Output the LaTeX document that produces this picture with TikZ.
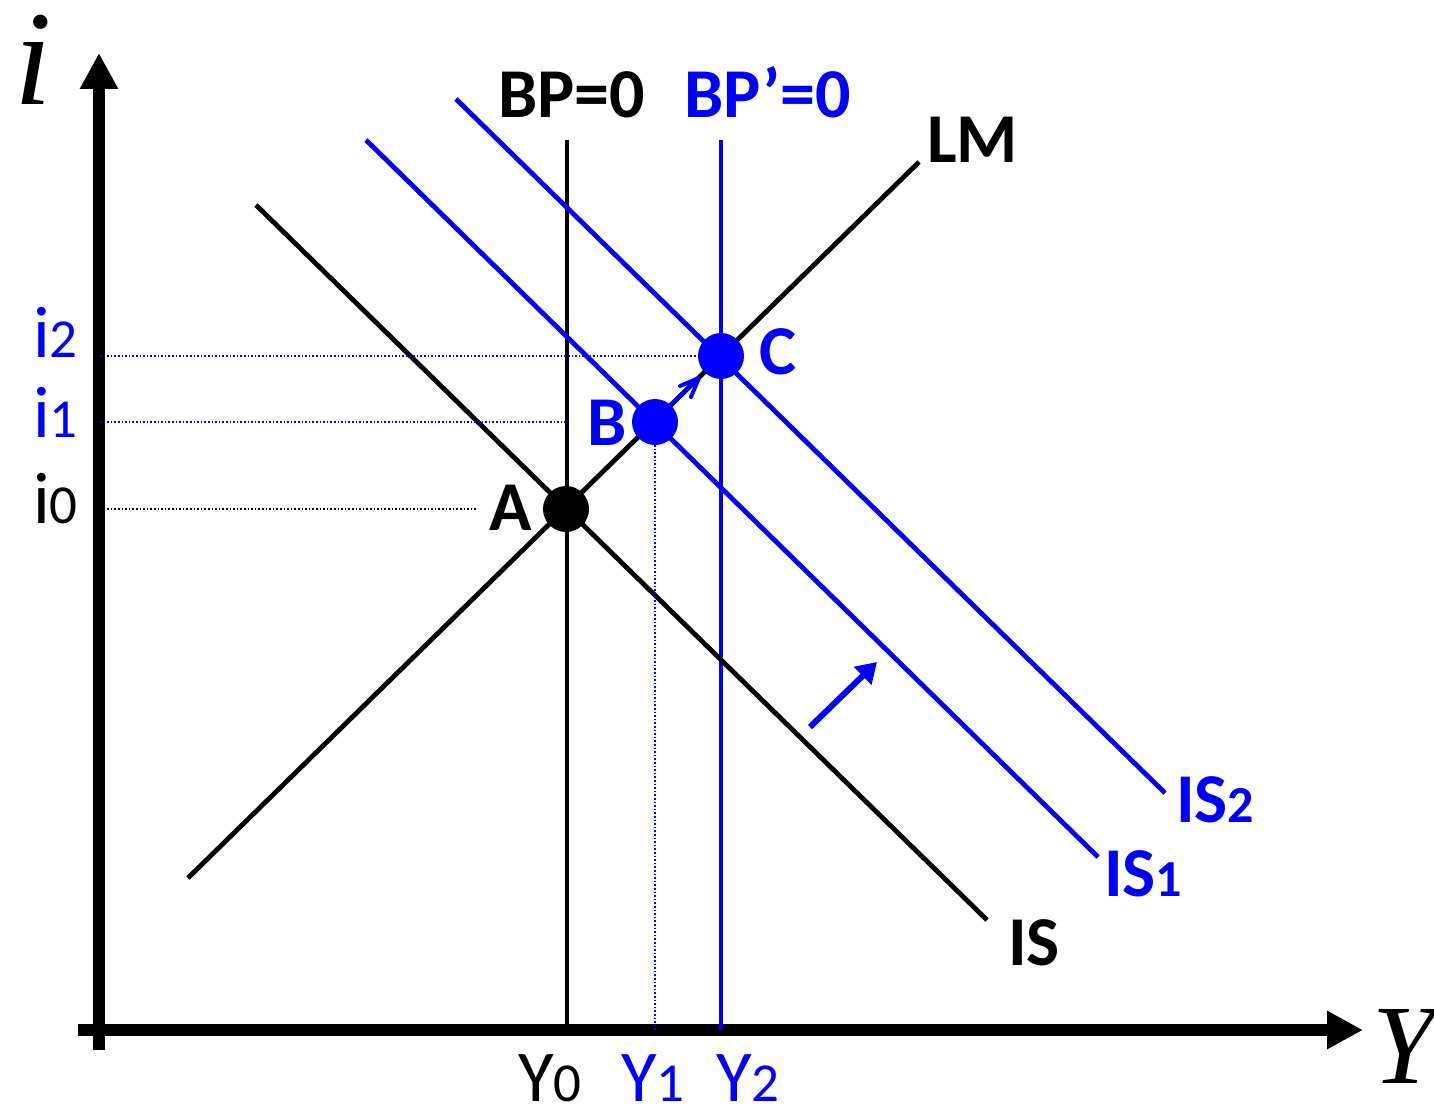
\documentclass[tikz,border=0pt]{standalone}
\usepackage{fontspec}
\setmainfont{Carlito}
\newfontfamily\tms{Liberation Serif}
\usetikzlibrary{arrows.meta}
\newcommand\fsz[1]{\fontsize{#1}{#1}\selectfont}
\definecolor{pblue}{RGB}{0,0,255}
\begin{document}
\begin{tikzpicture}[x=1pt,y=-1pt,
  curve/.style={line width=4.8pt},
  axisline/.style={line width=12pt,-{Triangle[length=36pt,width=36pt]}},
  guide/.style={line width=1.6pt,dash pattern=on 1.6pt off 2pt},
  pt/.style={circle,inner sep=0pt,minimum size=46pt},
  lbl/.style={inner sep=0pt,anchor=base west,font=\fsz{70}\bfseries},
  tick/.style={inner sep=0pt,anchor=base west,font=\fsz{73}},
]
\useasboundingbox (0,0) rectangle (1434,1110);
% axes
\coordinate (yb) at (99,1050);
\coordinate (yt) at (99,53);
\coordinate (xl) at (78,1030);
\coordinate (xr) at (1363,1030);
\draw[axisline] (yb) -- (yt);
\draw[axisline] (xl) -- (xr);
\node[inner sep=0pt,anchor=base west,font=\tms\itshape\fsz{135}] (ilab) at (14,105) {i};
\node[inner sep=0pt,anchor=base west,font=\tms\itshape\fsz{113}] (Ylab) at (1372,1083) {Y};
% curve endpoints
\coordinate (bp0t) at (567,140); \coordinate (bp0b) at (567,1030);
\coordinate (bp1t) at (721,140); \coordinate (bp1b) at (721,1030);
\coordinate (lma) at (188,878);  \coordinate (lmb) at (919,162);
\coordinate (isa) at (256,205);  \coordinate (isb) at (987,920);
\coordinate (is1a) at (366,140); \coordinate (is1b) at (1098,857);
\coordinate (is2a) at (456,99);  \coordinate (is2b) at (1165,793);
\draw[curve] (bp0t) -- (bp0b);
\draw[curve,pblue] (bp1t) -- (bp1b);
\draw[curve] (lma) -- (lmb);
\draw[curve] (isa) -- (isb);
\draw[curve,pblue] (is1a) -- (is1b);
\draw[curve,pblue] (is2a) -- (is2b);
% points
\node[pt,fill=black] (A) at (566,509) {};
\node[pt,fill=pblue] (B) at (655,422) {};
\node[pt,fill=pblue] (C) at (721,356) {};
% guides
\coordinate (g2l) at (100,356);
\coordinate (g1l) at (100,422); \coordinate (g1r) at (567,422);
\coordinate (g0l) at (100,509); \coordinate (g0r) at (478,509);
\coordinate (y1b) at (655,1030);
\draw[guide,pblue] (g2l) -- (C.west);
\draw[guide,pblue] (g1l) -- (g1r);
\draw[guide] (g0l) -- (g0r);
\draw[guide,pblue] (B.south) -- (y1b);
% arrows
\coordinate (sa) at (668,408); \coordinate (sb) at (699,378);
\coordinate (sarm1) at (680,386); \coordinate (sarm2) at (691,397);
\draw[pblue,line width=4pt] (sa) -- (sb);
\draw[pblue,line width=4pt,line cap=round,line join=round] (sarm1) -- (sb) -- (sarm2);
\coordinate (ba) at (810,727); \coordinate (bb) at (877,662);
\draw[pblue,line width=6pt,-{Triangle[length=20pt,width=24pt]}] (ba) -- (bb);
% labels
\node[lbl] (bp0lab) at (498,118) {BP=0};
\node[lbl,pblue] (bp1lab) at (684,118) {BP’=0};
\node[lbl] (lmlab) at (927,163) {LM};
\node[lbl] (Alab) at (489,530) {A};
\node[lbl,pblue] (Blab) at (587,445) {B};
\node[lbl,pblue] (Clab) at (759,374) {C};
\node[lbl] (islab) at (1008,965) {IS};
\node[lbl,pblue] (is1lab) at (1104,896) {IS{\fsz{52}1}};
\node[lbl,pblue] (is2lab) at (1176,822) {IS{\fsz{52}2}};
\node[tick,pblue] (i2lab) at (33,357) {i{\fsz{55}2}};
\node[tick,pblue] (i1lab) at (33,437) {i{\fsz{55}1}};
\node[tick] (i0lab) at (33,523) {i{\fsz{55}0}};
\node[tick] (y0lab) at (518,1101) {Y{\fsz{55}0}};
\node[tick,pblue] (y1lab) at (621,1101) {Y{\fsz{55}1}};
\node[tick,pblue] (y2lab) at (716,1101) {Y{\fsz{55}2}};
\end{tikzpicture}
\end{document}
